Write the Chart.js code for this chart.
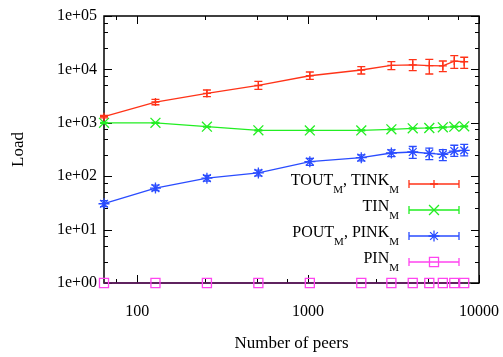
<!DOCTYPE html>
<html>
<head>
<meta charset="utf-8">
<script src="https://cdn.jsdelivr.net/npm/chart.js@4.4.1/dist/chart.umd.min.js"></script>
<style>
  html, body { margin: 0; padding: 0; background: #fff; }
  #wrap { width: 503px; height: 357px; }
</style>
</head>
<body>
<div id="wrap"><canvas id="loadChart"></canvas></div>
<script>
// number of peers in the simulation
const peers = [64, 128, 256, 512, 1024, 2048, 3072, 4096, 5120, 6144, 7168, 8192];

// TOUT_M, TINK_M
const toutLoad = [1300, 2450, 3550, 5000, 7600, 9750, 11900, 12200, 11800, 11600, 14300, 13900];
const toutLow  = [1240, 2180, 3080, 4240, 6530, 8200, 9870, 9460, 8200, 9060, 10470, 10470];
const toutHigh = [1380, 2750, 4110, 5980, 8930, 11250, 13930, 15200, 15460, 14370, 18080, 16880];

// TIN_M
const tinLoad = [1000, 1000, 845, 723, 720, 720, 755, 788, 800, 824, 845, 860];
const tinLow  = [980, 980, 830, 710, 707, 707, 741, 773, 785, 808, 829, 844];
const tinHigh = [1020, 1020, 860, 736, 733, 733, 769, 803, 815, 840, 861, 876];

// POUT_M, PINK_M
const poutLoad = [30.5, 60, 92, 115, 187, 222, 272, 284, 268, 257, 296, 305];
const poutLow  = [27, 54, 81, 101, 160, 193, 232, 215, 205, 195, 235, 240];
const poutHigh = [35, 68, 104, 130, 216, 250, 312, 360, 335, 315, 380, 395];

// PIN_M
const pinLoad = [1, 1, 1, 1, 1, 1, 1, 1, 1, 1, 1, 1];

// legend labels, [text, isSubscript]
const seriesLabels = [
  [["TOUT", false], ["M", true], [", TINK", false], ["M", true]],
  [["TIN", false], ["M", true]],
  [["POUT", false], ["M", true], [", PINK", false], ["M", true]],
  [["PIN", false], ["M", true]]
];

const xTicks = [75, 100, 250, 500, 750, 1000, 2500, 5000, 7500, 10000];
const yTicks = [1, 2.5, 5, 7.5, 10, 25, 50, 75, 100, 250, 500, 750,
  1000, 2500, 5000, 7500, 10000, 25000, 50000, 75000, 100000];

const FONT = '"Liberation Serif", "Times New Roman", serif';
const colors = { red: "#ff3318", green: "#22ee22", blue: "#2a4cff", magenta: "#ff44f0" };

const isDecade = v => Math.abs(Math.log10(v) - Math.round(Math.log10(v))) < 1e-9;
const toPoints = ys => peers.map((p, i) => ({ x: p, y: ys[i] }));

// gnuplot-like frame with inward ticks on all four sides
const frameTicks = {
  id: "frameTicks",
  beforeDatasetsDraw(chart) {
    const { ctx, chartArea: a, scales: { x, y } } = chart;
    ctx.save();
    ctx.strokeStyle = "#000";
    ctx.lineWidth = 1;
    ctx.beginPath();
    xTicks.forEach(v => {
      const px = Math.round(x.getPixelForValue(v)) + 0.5;
      const len = isDecade(v) ? 8 : 4;
      ctx.moveTo(px, a.bottom); ctx.lineTo(px, a.bottom - len);
      ctx.moveTo(px, a.top); ctx.lineTo(px, a.top + len);
    });
    yTicks.forEach(v => {
      const py = Math.round(y.getPixelForValue(v)) + 0.5;
      const len = isDecade(v) ? 8 : 4;
      ctx.moveTo(a.left, py); ctx.lineTo(a.left + len, py);
      ctx.moveTo(a.right, py); ctx.lineTo(a.right - len, py);
    });
    ctx.stroke();
    ctx.lineWidth = 1.5;
    ctx.strokeRect(a.left, a.top, a.right - a.left, a.bottom - a.top);
    ctx.restore();
  }
};

// vertical error bars with caps
const errorBars = {
  id: "errorBars",
  afterDatasetsDraw(chart) {
    const { ctx, scales: { x, y } } = chart;
    chart.data.datasets.forEach(ds => {
      if (!ds.errLow) return;
      ctx.save();
      ctx.strokeStyle = ds.borderColor;
      ctx.lineWidth = 1.3;
      ds.data.forEach((pt, i) => {
        const px = x.getPixelForValue(pt.x);
        const lo = y.getPixelForValue(ds.errLow[i]);
        const hi = y.getPixelForValue(ds.errHigh[i]);
        ctx.beginPath();
        ctx.moveTo(px, lo); ctx.lineTo(px, hi);
        ctx.moveTo(px - 4, lo); ctx.lineTo(px + 4, lo);
        ctx.moveTo(px - 4, hi); ctx.lineTo(px + 4, hi);
        ctx.stroke();
      });
      ctx.restore();
    });
  }
};

// key in the lower right, text with subscripts, sample with error-bar ends
const keyBox = {
  id: "keyBox",
  afterDraw(chart) {
    const { ctx, chartArea: a } = chart;
    const textRight = a.right - 80;
    const lineL = a.right - 70, lineR = a.right - 20;
    chart.data.datasets.forEach((ds, i) => {
      const rowY = a.top + 168 + i * 26;
      const parts = seriesLabels[i];
      ctx.save();
      let total = 0;
      parts.forEach(([t, sub]) => {
        ctx.font = (sub ? "11px " : "16px ") + FONT;
        total += ctx.measureText(t).width;
      });
      let cx = textRight - total;
      ctx.fillStyle = "#000";
      ctx.textBaseline = "alphabetic";
      parts.forEach(([t, sub]) => {
        ctx.font = (sub ? "11px " : "16px ") + FONT;
        ctx.fillText(t, cx, rowY + (sub ? 9 : 1));
        cx += ctx.measureText(t).width;
      });
      const col = ds.keyColor || ds.borderColor;
      ctx.strokeStyle = col;
      ctx.fillStyle = "rgba(0,0,0,0)";
      ctx.lineWidth = 1.3;
      ctx.beginPath();
      ctx.moveTo(lineL, rowY); ctx.lineTo(lineR, rowY);
      ctx.moveTo(lineL, rowY - 4); ctx.lineTo(lineL, rowY + 4);
      ctx.moveTo(lineR, rowY - 4); ctx.lineTo(lineR, rowY + 4);
      ctx.stroke();
      Chart.helpers.drawPoint(ctx, {
        pointStyle: ds.pointStyle, radius: ds.pointRadius, rotation: 0, borderWidth: 1.3
      }, (lineL + lineR) / 2, rowY);
      ctx.restore();
    });
  }
};

function renderChart() {
  const common = { borderWidth: 1.3, tension: 0, clip: false, pointBorderWidth: 1.3,
    pointBackgroundColor: "rgba(0,0,0,0)" };
  new Chart(document.getElementById("loadChart"), {
    type: "line",
    data: {
      datasets: [
        Object.assign({}, common, {
          label: "TOUT_M, TINK_M", data: toPoints(toutLoad), errLow: toutLow, errHigh: toutHigh,
          borderColor: colors.red, pointBorderColor: colors.red, pointStyle: "cross", pointRadius: 4
        }),
        Object.assign({}, common, {
          label: "TIN_M", data: toPoints(tinLoad), errLow: tinLow, errHigh: tinHigh,
          borderColor: colors.green, pointBorderColor: colors.green, pointStyle: "crossRot", pointRadius: 7
        }),
        Object.assign({}, common, {
          label: "POUT_M, PINK_M", data: toPoints(poutLoad), errLow: poutLow, errHigh: poutHigh,
          borderColor: colors.blue, pointBorderColor: colors.blue, pointStyle: "star", pointRadius: 5.5
        }),
        Object.assign({}, common, {
          label: "PIN_M", data: toPoints(pinLoad), keyColor: colors.magenta,
          borderColor: "#6a1a6a", pointBorderColor: colors.magenta, pointStyle: "rect", pointRadius: 6.4
        })
      ]
    },
    options: {
      responsive: true,
      maintainAspectRatio: false,
      animation: false,
      layout: { padding: { top: 16, right: 24, left: 0, bottom: 0 } },
      plugins: { legend: { display: false }, tooltip: { enabled: false } },
      scales: {
        x: {
          type: "logarithmic", min: 64, max: 10000,
          afterBuildTicks: s => { s.ticks = xTicks.map(v => ({ value: v })); },
          afterFit: s => { s.height = 74; s.paddingLeft = 0; s.paddingRight = 0; },
          grid: { display: false, drawTicks: false },
          border: { display: false },
          ticks: {
            autoSkip: false, maxRotation: 0, padding: 19, color: "#000",
            font: { family: FONT, size: 16 },
            callback: v => isDecade(v) ? String(v) : ""
          },
          title: {
            display: true, text: "Number of peers", color: "#000",
            font: { family: FONT, size: 17 }, padding: { top: 0, bottom: 3 }
          }
        },
        y: {
          type: "logarithmic", min: 1, max: 100000,
          afterBuildTicks: s => { s.ticks = yTicks.map(v => ({ value: v })); },
          afterFit: s => { s.width = 104; s.paddingTop = 0; s.paddingBottom = 0; },
          grid: { display: false, drawTicks: false },
          border: { display: false },
          ticks: {
            autoSkip: false, padding: 7, color: "#000",
            font: { family: FONT, size: 16 },
            callback: v => isDecade(v) ? "1e+" + String(Math.round(Math.log10(v))).padStart(2, "0") : ""
          },
          title: {
            display: true, text: "Load", color: "#000",
            font: { family: FONT, size: 17 }, padding: { top: 8, bottom: 0 }
          }
        }
      }
    },
    plugins: [frameTicks, errorBars, keyBox]
  });
}

window.onload = renderChart;
</script>
</body>
</html>
